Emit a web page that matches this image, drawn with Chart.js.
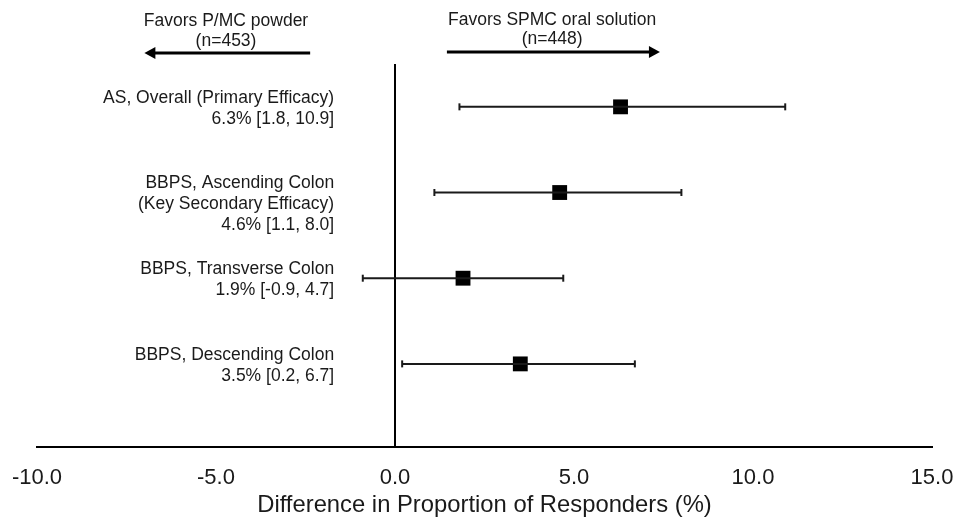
<!DOCTYPE html>
<html>
<head>
<meta charset="utf-8">
<script src="https://cdn.jsdelivr.net/npm/chart.js@4/dist/chart.umd.min.js"></script>
<style>
  body { margin: 0; background: #fff; }
</style>
</head>
<body>
<canvas id="myChart" width="956" height="521"></canvas>
<script>
// rows of the forest plot, top to bottom
var rowNames = [
    ["AS, Overall (Primary Efficacy)"],
    ["BBPS, Ascending Colon", "(Key Secondary Efficacy)"],
    ["BBPS, Transverse Colon"],
    ["BBPS, Descending Colon"]
];
var estimates = [6.3, 4.6, 1.9, 3.5];
var lowerCI = [1.8, 1.1, -0.9, 0.2];
var upperCI = [10.9, 8.0, 4.7, 6.7];
var rowLabels = ["6.3% [1.8, 10.9]", "4.6% [1.1, 8.0]", "1.9% [-0.9, 4.7]", "3.5% [0.2, 6.7]"];
var xTicks = [-10, -5, 0, 5, 10, 15];

var font = 'Arial, "Liberation Sans", sans-serif';
var ink = '#1a1a1a';

var datasets = [];
// confidence intervals with caps
for (var i = 0; i < estimates.length; i++) {
    datasets.push({
        data: [{x: lowerCI[i], y: i + 1}, {x: upperCI[i], y: i + 1}],
        showLine: true,
        borderColor: ink,
        borderWidth: 2,
        pointStyle: 'line',
        rotation: 90,
        pointRadius: 3.5,
        pointBorderWidth: 2,
        pointBorderColor: ink
    });
}
// point estimates
datasets.push({
    data: estimates.map(function(v, i) { return {x: v, y: i + 1}; }),
    pointStyle: 'rect',
    pointRadius: 10.5,
    pointBackgroundColor: '#000',
    pointBorderColor: '#000',
    pointBorderWidth: 0
});

// row labels and the two "favors" arrows
var annotations = {
    id: 'annotations',
    afterDraw: function(chart) {
        var c = chart.ctx, xs = chart.scales.x, ys = chart.scales.y;
        c.save();
        c.fillStyle = ink;
        c.textBaseline = 'middle';

        // row labels, right aligned left of the zero line
        c.font = '17.5px ' + font;
        c.textAlign = 'right';
        var lx = xs.getPixelForValue(-1.7);
        rowNames.forEach(function(lines, i) {
            var all = lines.concat([rowLabels[i]]);
            var y0 = ys.getPixelForValue(i + 1) - 9;
            all.forEach(function(t, k) {
                c.fillText(t, lx, y0 + k * 21);
            });
        });

        // header text
        c.textAlign = 'center';
        var lc = xs.getPixelForValue(-4.72), rc = xs.getPixelForValue(4.39);
        c.fillText('Favors P/MC powder', lc, 21);
        c.fillText('(n=453)', lc, 41);
        c.fillText('Favors SPMC oral solution', rc, 20);
        c.fillText('(n=448)', rc, 39);

        // arrows
        c.strokeStyle = '#000';
        c.fillStyle = '#000';
        c.lineWidth = 3;
        var a1 = xs.getPixelForValue(-2.37), a2 = xs.getPixelForValue(-7.0);
        c.beginPath(); c.moveTo(a1, 53); c.lineTo(a2 + 8, 53); c.stroke();
        c.beginPath(); c.moveTo(a2, 53); c.lineTo(a2 + 11, 47); c.lineTo(a2 + 11, 59); c.closePath(); c.fill();
        var b1 = xs.getPixelForValue(1.45), b2 = xs.getPixelForValue(7.4);
        c.beginPath(); c.moveTo(b1, 52); c.lineTo(b2 - 8, 52); c.stroke();
        c.beginPath(); c.moveTo(b2, 52); c.lineTo(b2 - 11, 46); c.lineTo(b2 - 11, 58); c.closePath(); c.fill();
        c.restore();
    }
};

var ctx = document.getElementById("myChart").getContext('2d');
var forestChart = new Chart(ctx, {
    type: 'scatter',
    data: { datasets: datasets },
    options: {
        responsive: false,
        animation: false,
        layout: { padding: { left: 37, right: 24, top: 64, bottom: 1 } },
        plugins: { legend: { display: false }, tooltip: { enabled: false } },
        scales: {
            x: {
                type: 'linear',
                min: -10,
                max: 15,
                afterBuildTicks: function(axis) {
                    axis.ticks = xTicks.map(function(v) { return {value: v}; });
                },
                afterFit: function(axis) {
                    axis.height = 73;
                    axis.paddingLeft = 0;
                    axis.paddingRight = 0;
                },
                border: { display: true, color: '#000', width: 2 },
                grid: {
                    drawTicks: false,
                    lineWidth: 2,
                    color: function(c) { return c.tick && c.tick.value === 0 ? '#000' : 'rgba(0,0,0,0)'; }
                },
                ticks: {
                    padding: 18,
                    color: ink,
                    font: { family: font, size: 22 },
                    maxRotation: 0,
                    callback: function(v) { return v.toFixed(1); }
                },
                title: {
                    display: true,
                    text: 'Difference in Proportion of Responders (%)',
                    color: ink,
                    font: { family: font, size: 23.8 },
                    padding: { top: 4, bottom: 0 }
                }
            },
            y: {
                type: 'linear',
                display: false,
                reverse: true,
                min: 0.5,
                max: 4.97
            }
        }
    },
    plugins: [annotations]
});
</script>
</body>
</html>
